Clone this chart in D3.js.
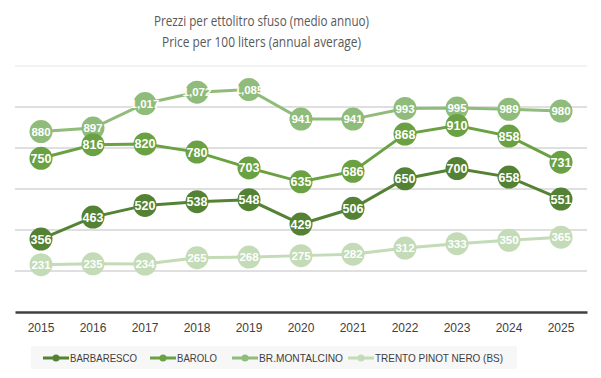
<!DOCTYPE html>
<html lang="it">
<head>
<meta charset="UTF-8">
<script src="https://cdn.jsdelivr.net/npm/d3@7/dist/d3.min.js"></script>
<style>
  body { margin: 0; background: #fff; }
  svg { display: block; }
  .title { font-family: "Open Sans", sans-serif; font-size: 14.5px; fill: #595959; }
  .tick text { font-family: "Liberation Sans", Arial, sans-serif; font-size: 12px; fill: #404040; }
  .lbl { font-family: "Liberation Sans", Arial, sans-serif; font-weight: bold; font-size: 12.5px; fill: #fff; }
  .leg { font-family: "Liberation Sans", Arial, sans-serif; font-size: 11.5px; fill: #404040; }
</style>
</head>
<body>
<div id="chart"></div>
<script>
// data
const years = ["2015","2016","2017","2018","2019","2020","2021","2022","2023","2024","2025"];
const seriesNames = ["BARBARESCO", "BAROLO", "BR.MONTALCINO", "TRENTO PINOT NERO (BS)"];
const barbaresco = [356, 463, 520, 538, 548, 429, 506, 650, 700, 658, 551];
const barolo = [750, 816, 820, 780, 703, 635, 686, 868, 910, 858, 731];
const montalcino = [880, 897, 1017, 1072, 1085, 941, 941, 993, 995, 989, 980];
const trento = [231, 235, 234, 265, 268, 275, 282, 312, 333, 350, 365];
const yTicks = [0, 200, 400, 600, 800, 1000, 1200];

const colors = ["#548235", "#6aa142", "#8fbc7a", "#c3dbb6"];
const series = [barbaresco, barolo, montalcino, trento];

const W = 601, H = 378;
const svg = d3.select("#chart").append("svg").attr("width", W).attr("height", H);

const x = d3.scaleBand().domain(years).range([15, 587]);
const y = d3.scaleLinear().domain([0, 1200]).range([312, 66]);

// title (condensed look of the original font)
svg.append("text").attr("class", "title").attr("x", 261.5).attr("y", 26)
  .attr("text-anchor", "middle").attr("textLength", 215).attr("lengthAdjust", "spacingAndGlyphs")
  .text("Prezzi per ettolitro sfuso (medio annuo)");
svg.append("text").attr("class", "title").attr("x", 261.5).attr("y", 47)
  .attr("text-anchor", "middle").attr("textLength", 199).attr("lengthAdjust", "spacingAndGlyphs")
  .text("Price per 100 liters (annual average)");

// gridlines
svg.append("g").selectAll("line").data(yTicks.slice(1)).join("line")
  .attr("x1", 15).attr("x2", 587)
  .attr("y1", d => y(d)).attr("y2", d => y(d))
  .attr("stroke", d => d === 1200 ? "#e6e6e6" : "#bfbfbf").attr("stroke-width", 1);

// x axis
const xAxis = svg.append("g").attr("transform", "translate(0,312)")
  .call(d3.axisBottom(x).tickSize(0).tickPadding(11));
xAxis.select(".domain").attr("stroke", "#404040").attr("stroke-width", 2.5);

// lines and markers, drawn lightest first
const line = d3.line().x((d, i) => x(years[i]) + x.bandwidth() / 2).y(d => y(d));
const order = [3, 2, 1, 0];
order.forEach(k => {
  const g = svg.append("g");
  g.append("path").datum(series[k]).attr("d", line)
    .attr("fill", "none").attr("stroke", colors[k]).attr("stroke-width", 3);
  g.selectAll("circle").data(series[k]).join("circle")
    .attr("cx", (d, i) => x(years[i]) + x.bandwidth() / 2)
    .attr("cy", d => y(d)).attr("r", 11.5).attr("fill", colors[k]);
});
order.forEach(k => {
  svg.append("g").selectAll("text").data(series[k]).join("text")
    .attr("class", "lbl")
    .attr("x", (d, i) => x(years[i]) + x.bandwidth() / 2)
    .attr("y", d => y(d)).attr("dy", "0.36em")
    .attr("text-anchor", "middle")
    .style("font-size", k === 2 || k === 3 ? "11.5px" : "12.5px")
    .text(d => d3.format(",")(d));
});

// legend
svg.append("rect").attr("x", 31).attr("y", 346).attr("width", 486).attr("height", 23).attr("fill", "#f7f7f7");
const legX = [43, 150, 232, 348];
const legW = [67, 40, 84, 128];
seriesNames.forEach((name, k) => {
  const g = svg.append("g").attr("transform", `translate(${legX[k]},358)`);
  g.append("line").attr("x1", 0).attr("x2", 26).attr("stroke", colors[k]).attr("stroke-width", 3);
  g.append("circle").attr("cx", 13).attr("r", 3.5).attr("fill", colors[k]);
  g.append("text").attr("class", "leg").attr("x", 27).attr("dy", "0.36em")
    .attr("textLength", legW[k]).attr("lengthAdjust", "spacingAndGlyphs").text(name);
});
</script>
</body>
</html>
